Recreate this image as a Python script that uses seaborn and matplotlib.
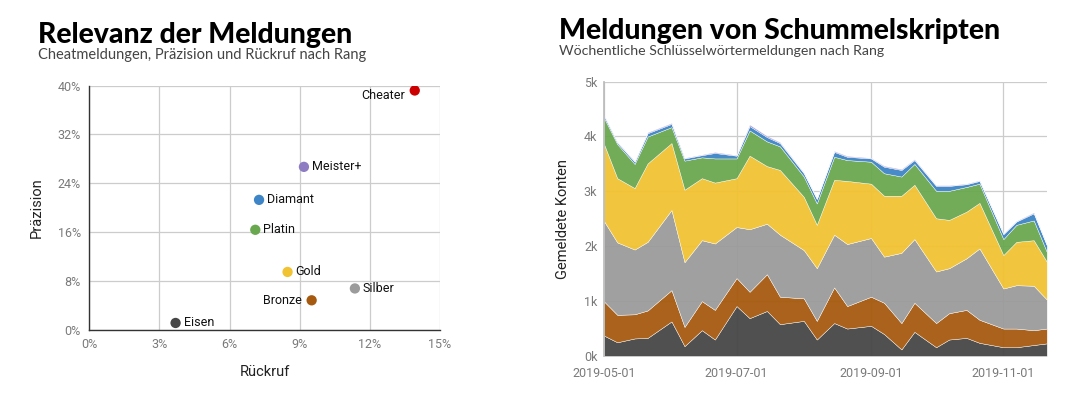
import matplotlib
matplotlib.use("Agg")
import matplotlib.pyplot as plt
import matplotlib.dates as mdates
import matplotlib.ticker as mticker
import seaborn as sns
import pandas as pd
import numpy as np

# ---------------- data ----------------
ranks = ["Eisen", "Bronze", "Silber", "Gold", "Platin", "Diamant", "Meister+", "Cheater"]
recall = [3.69, 9.51, 11.36, 8.48, 7.10, 7.26, 9.18, 13.92]        # %
precision = [1.15, 4.86, 6.8, 9.5, 16.4, 21.3, 26.7, 39.2]          # %
colors = ["#464646", "#a65a0f", "#9b9b9b", "#f1c232", "#6aa84f", "#3d85c6", "#8e7cc3", "#cc0000"]

dates = ["2019-05-01", "2019-05-07", "2019-05-15", "2019-05-21",
         "2019-06-01", "2019-06-07", "2019-06-15", "2019-06-21",
         "2019-07-01", "2019-07-07", "2019-07-15", "2019-07-21",
         "2019-08-01", "2019-08-07", "2019-08-15", "2019-08-21",
         "2019-09-01", "2019-09-07", "2019-09-15", "2019-09-21",
         "2019-10-01", "2019-10-07", "2019-10-15", "2019-10-21",
         "2019-11-01", "2019-11-07", "2019-11-15", "2019-11-21"]
eisen   = [370, 250, 320, 330, 630, 180, 470, 300, 910, 690, 820, 580, 640, 300,
           600, 500, 550, 400, 120, 440, 160, 300, 330, 240, 160, 160, 200, 230]
bronze  = [620, 500, 440, 500, 570, 350, 530, 540, 510, 480, 670, 500, 410, 340,
           650, 410, 530, 570, 480, 530, 440, 480, 510, 420, 340, 340, 270, 270]
silber  = [1460, 1320, 1180, 1250, 1460, 1180, 1110, 1210, 930, 1140, 920, 1130, 880, 960,
           960, 1130, 1070, 840, 1280, 1160, 940, 820, 940, 1300, 730, 790, 810, 530]
gold    = [1400, 1170, 1120, 1430, 1220, 1320, 1130, 1110, 890, 1340, 1050, 1180, 970, 790,
           1000, 1150, 990, 1110, 1040, 990, 970, 880, 850, 830, 610, 790, 830, 690]
platin  = [480, 620, 440, 490, 290, 530, 380, 440, 360, 460, 450, 430, 370, 390,
           420, 380, 400, 410, 350, 380, 500, 530, 450, 350, 290, 310, 360, 180]
diamant = [40, 30, 40, 60, 60, 40, 40, 100, 50, 80, 80, 60, 60, 80,
           90, 60, 60, 120, 120, 70, 90, 90, 50, 50, 90, 60, 130, 120]
meister = [10, 10, 10, 15, 15, 10, 10, 15, 10, 25, 20, 15, 10, 10,
           15, 15, 10, 15, 15, 15, 10, 10, 10, 10, 10, 10, 15, 10]

# ---------------- style ----------------
sns.set_theme(style="whitegrid")
plt.rcParams["font.family"] = ["Roboto", "DejaVu Sans"]
GRID = "#cccccc"
TICK = "#7a7a7a"

fig = plt.figure(figsize=(10.8, 4.0), dpi=100)

# ---------------- left: scatter ----------------
ax1 = fig.add_axes([0.0827, 0.175, 0.4074 - 0.0827, 0.786 - 0.175])
df = pd.DataFrame({"Rang": ranks, "Rückruf": recall, "Präzision": precision})
sns.scatterplot(data=df, x="Rückruf", y="Präzision", hue="Rang",
                palette=dict(zip(ranks, colors)), s=55, edgecolor="none",
                legend=False, ax=ax1, zorder=3)
ax1.set_xlim(0, 15)
ax1.set_ylim(0, 40)
ax1.xaxis.set_major_locator(mticker.MultipleLocator(3))
ax1.yaxis.set_major_locator(mticker.MultipleLocator(8))
ax1.xaxis.set_major_formatter(mticker.FuncFormatter(lambda v, p: f"{v:.0f}%"))
ax1.yaxis.set_major_formatter(mticker.FuncFormatter(lambda v, p: f"{v:.0f}%"))
ax1.grid(True, color=GRID, linewidth=0.9)
for s in ["top", "right"]:
    ax1.spines[s].set_visible(False)
ax1.spines["left"].set_color("#333333")
ax1.spines["bottom"].set_color("#333333")
ax1.spines["left"].set_linewidth(1.0)
ax1.spines["bottom"].set_linewidth(1.0)
ax1.tick_params(axis="both", colors=TICK, labelsize=9, length=0, pad=6)
ax1.set_xlabel("Rückruf", fontsize=10.5, color="#222222", labelpad=10)
ax1.set_ylabel("Präzision", fontsize=10.5, color="#222222", labelpad=10)

left_side = {"Cheater": (-10, -5), "Bronze": (-10, 0)}
for r, x, y in zip(ranks, recall, precision):
    if r in left_side:
        off = left_side[r]
        ha = "right"
    else:
        off = (8, 0)
        ha = "left"
    ax1.annotate(r, (x, y), xytext=off, textcoords="offset pixels",
                 ha=ha, va="center", fontsize=9, color="#111111")

# ---------------- right: stacked area ----------------
ax2 = fig.add_axes([0.5595, 0.11, 0.9692 - 0.5595, 0.796 - 0.11])
t = pd.to_datetime(dates)
series = [eisen, bronze, silber, gold, platin, diamant, meister]
ax2.stackplot(t, *series, colors=colors[:len(series)], linewidth=0.3,
              edgecolor="#ffffff30", zorder=2, alpha=0.95)
ax2.set_xlim(pd.Timestamp("2019-05-01"), pd.Timestamp("2019-11-21"))
ax2.set_ylim(0, 5000)
ax2.set_xticks(pd.to_datetime(["2019-05-01", "2019-07-01", "2019-09-01", "2019-11-01"]))
ax2.xaxis.set_major_formatter(mdates.DateFormatter("%Y-%m-%d"))
ax2.yaxis.set_major_locator(mticker.MultipleLocator(1000))
ax2.yaxis.set_major_formatter(mticker.FuncFormatter(lambda v, p: f"{v/1000:.0f}k"))
ax2.grid(True, color=GRID, linewidth=0.9)
ax2.set_axisbelow(True)
for s in ["top", "right", "bottom"]:
    ax2.spines[s].set_visible(False)
ax2.spines["left"].set_color("#bbbbbb")
ax2.tick_params(axis="y", colors=TICK, labelsize=9, length=0, pad=5)
ax2.tick_params(axis="x", colors=TICK, labelsize=9, length=0, pad=8)
ax2.set_ylabel("Gemeldete Konten", fontsize=10.5, color="#222222", labelpad=10)

# ---------------- titles ----------------
tfont = ["Lato", "DejaVu Sans"]
fig.text(38 / 1080, 1 - 43 / 400, "Relevanz der Meldungen", fontsize=20.4,
         fontweight="black", family=tfont, color="#000000", ha="left", va="baseline")
fig.text(38 / 1080, 1 - 59 / 400, "Cheatmeldungen, Präzision und Rückruf nach Rang",
         fontsize=10.5, family=tfont, color="#444444", ha="left", va="baseline")
fig.text(559 / 1080, 1 - 39 / 400, "Meldungen von Schummelskripten", fontsize=20.4,
         fontweight="black", family=tfont, color="#000000", ha="left", va="baseline")
fig.text(559 / 1080, 1 - 55 / 400, "Wöchentliche Schlüsselwörtermeldungen nach Rang",
         fontsize=10.2, family=tfont, color="#444444", ha="left", va="baseline")

fig.savefig("out.png", dpi=100, facecolor="white")
